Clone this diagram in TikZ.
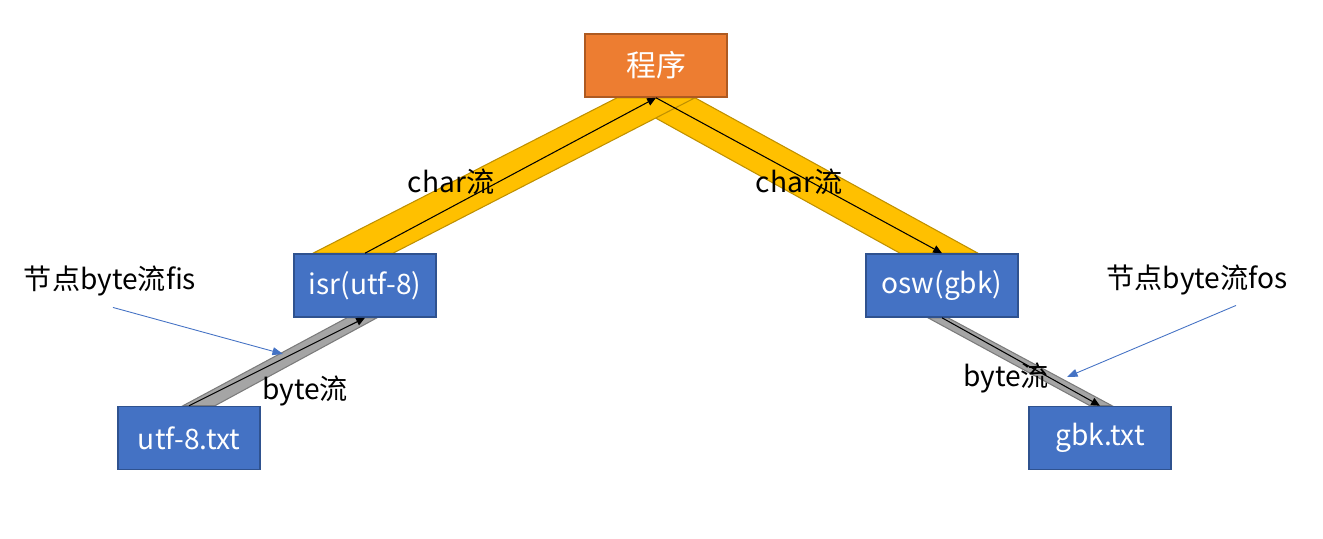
\documentclass[tikz,border=0pt]{standalone}
\usepackage{fontspec}
\setmainfont{Noto Sans CJK SC}
\usetikzlibrary{calc,arrows.meta,backgrounds}
\definecolor{progfill}{HTML}{ED7D31}
\definecolor{progline}{HTML}{AE5A21}
\definecolor{boxfill}{HTML}{4472C4}
\definecolor{boxline}{HTML}{2F528F}
\definecolor{charfill}{HTML}{FFC000}
\definecolor{charline}{HTML}{BF9000}
\definecolor{bytefill}{HTML}{A5A5A5}
\definecolor{byteline}{HTML}{7B7B7B}
\tikzset{
  box/.style={draw=boxline, fill=boxfill, line width=0.9pt, text=white, inner sep=0pt,
    minimum width=2.84cm, minimum height=1.26cm, font=\fontsize{16pt}{19pt}\selectfont},
  label/.style={font=\fontsize{16pt}{19pt}\selectfont, inner sep=0pt},
  charband/.style={fill=charfill, draw=charline, line width=0.6pt},
  byteband/.style={fill=bytefill, draw=byteline, line width=0.6pt},
  flow/.style={line width=0.6pt, -{Triangle[length=5pt,width=4.5pt]}},
  note/.style={draw=boxfill, line width=0.5pt, -{Triangle[length=6pt,width=4.5pt]}}
}
\begin{document}
\begin{tikzpicture}[x=0.02cm,y=-0.02cm]
  \useasboundingbox (0,0) rectangle (1323,538);

  %%%%% boxes %%%%%
  \node[box, draw=progline, fill=progfill, font=\fontsize{17pt}{20pt}\selectfont] (prog) at (656,65.5) {程序};
  \node[box] (isr) at (365,285.5) {isr(utf-8)};
  \node[box, minimum width=3.04cm] (osw) at (942,285.5) {osw(gbk)};
  \node[box] (utf) at (189,438) {utf-8.txt};
  \node[box] (gbk) at (1100,438) {gbk.txt};

  %%%%% bands %%%%%
  \begin{scope}[on background layer]
    \filldraw[charband] ($(prog.south)+(-37,0)$) -- ($(prog.south)+(39,0)$)
      -- ($(osw.north)+(36,0)$) -- ($(osw.north)+(-42,0)$) -- cycle;
    \filldraw[charband] ($(isr.north)+(-52,0)$) -- ($(isr.north)+(28,0)$)
      -- ($(prog.south)+(39,0)$) -- ($(prog.south)+(-39,0)$) -- cycle;
    \filldraw[byteband] ($(utf.north)+(-6,0)$) -- ($(utf.north)+(26,0)$)
      -- ($(isr.south)+(12,0)$) -- ($(isr.south)+(-18,0)$) -- cycle;
    \filldraw[byteband] ($(osw.south)+(-14,0)$) -- ($(osw.south)+(6,0)$)
      -- ($(gbk.north)+(12,0)$) -- ($(gbk.north)+(-10,0)$) -- cycle;
  \end{scope}

  %%%%% flows %%%%%
  \draw[flow] (utf.north) -- (isr.south);
  \draw[flow] (isr.north) -- (prog.south);
  \draw[flow] (prog.south) -- (osw.north);
  \draw[flow] (osw.south) -- (gbk.north);

  %%%%% labels %%%%%
  \node[label] (charl) at (451,182) {char流};
  \node[label] (charr) at (799,182) {char流};
  \node[label] (bytel) at (305,391) {byte流};
  \node[label] (byter) at (1006,378) {byte流};
  \node[label] (fis) at (110,281) {节点byte流fis};
  \node[label] (fos) at (1197,280) {节点byte流fos};

  %%%%% notes %%%%%
  \coordinate (fistip) at (283,354);
  \coordinate (fostip) at (1067,377);
  \draw[note] ($(fis.south)+(3,11)$) -- (fistip);
  \draw[note] ($(fos.south)+(39,10)$) -- (fostip);
\end{tikzpicture}
\end{document}
